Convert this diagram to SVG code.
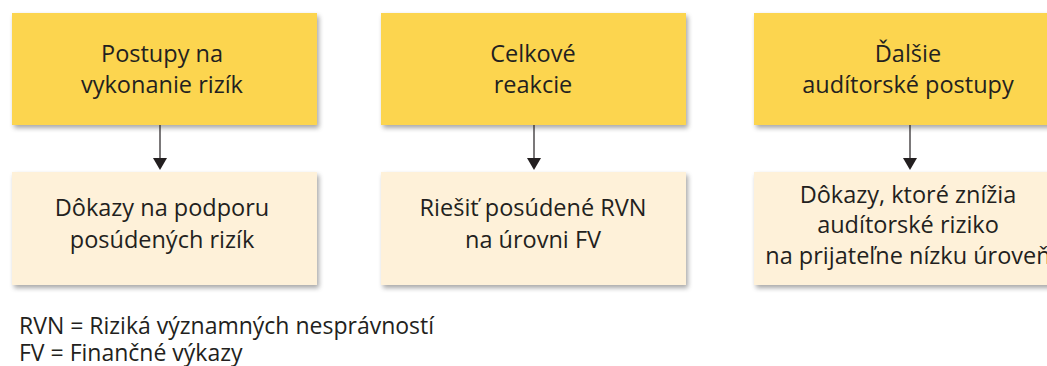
<svg xmlns="http://www.w3.org/2000/svg" width="1047" height="366" viewBox="0 0 1047 366">
  <defs>
    <filter id="shadow" x="-5%" y="-5%" width="115%" height="120%">
      <feGaussianBlur in="SourceAlpha" stdDeviation="2.5"/>
      <feOffset dx="2" dy="3" result="b"/>
      <feComponentTransfer><feFuncA type="linear" slope="0.35"/></feComponentTransfer>
      <feMerge><feMergeNode/><feMergeNode in="SourceGraphic"/></feMerge>
    </filter>
  </defs>
  <style>
    .top { fill: #fcd550; filter: url(#shadow); }
    .bottom { fill: #fef1d9; filter: url(#shadow); }
    .label { font-family: "Open Sans", "Noto Sans", sans-serif; font-size: 23.5px; fill: #231f20; text-anchor: middle; }
    .legend { font-family: "Open Sans", "Noto Sans", sans-serif; font-size: 23px; fill: #231f20; }
    .conn { stroke: #231f20; stroke-width: 1.2; fill: none; }
    .head { fill: #231f20; }
  </style>
  <rect width="1047" height="366" fill="#ffffff"/>

  <g id="node-postupy">
    <rect class="top" x="12" y="13" width="305" height="112"/>
    <text class="label" x="162" y="62">Postupy na</text>
    <text class="label" x="162" y="93">vykonanie rizík</text>
  </g>
  <g id="node-dokazy-podpora">
    <rect class="bottom" x="12" y="172" width="305" height="113"/>
    <text class="label" x="162" y="216">Dôkazy na podporu</text>
    <text class="label" x="162" y="248">posúdených rizík</text>
  </g>

  <g id="node-celkove">
    <rect class="top" x="381" y="13" width="305" height="112"/>
    <text class="label" x="533" y="62">Celkové</text>
    <text class="label" x="533" y="93">reakcie</text>
  </g>
  <g id="node-riesit">
    <rect class="bottom" x="381" y="172" width="305" height="113"/>
    <text class="label" x="533" y="216">Riešiť posúdené RVN</text>
    <text class="label" x="533" y="248">na úrovni FV</text>
  </g>

  <g id="node-dalsie">
    <rect class="top" x="754" y="13" width="310" height="112"/>
    <text class="label" x="908" y="62">Ďalšie</text>
    <text class="label" x="908" y="93">audítorské postupy</text>
  </g>
  <g id="node-dokazy-riziko">
    <rect class="bottom" x="754" y="172" width="310" height="113"/>
    <text class="label" x="908" y="203">Dôkazy, ktoré znížia</text>
    <text class="label" x="908" y="233">audítorské riziko</text>
    <text class="label" x="908" y="264">na prijateľne nízku úroveň</text>
  </g>

  <g id="connectors">
    <line class="conn" x1="160" y1="125" x2="160" y2="160"/>
    <path class="head" d="M153,158 L167,158 L160,170 Z"/>
    <line class="conn" x1="534" y1="125" x2="534" y2="160"/>
    <path class="head" d="M527,158 L541,158 L534,170 Z"/>
    <line class="conn" x1="910" y1="125" x2="910" y2="160"/>
    <path class="head" d="M903,158 L917,158 L910,170 Z"/>
  </g>

  <g id="legend">
    <text class="legend"><tspan x="19" y="334">RVN = Riziká významných nesprávností</tspan><tspan x="19" y="361">FV = Finančné výkazy</tspan></text>
  </g>
</svg>
